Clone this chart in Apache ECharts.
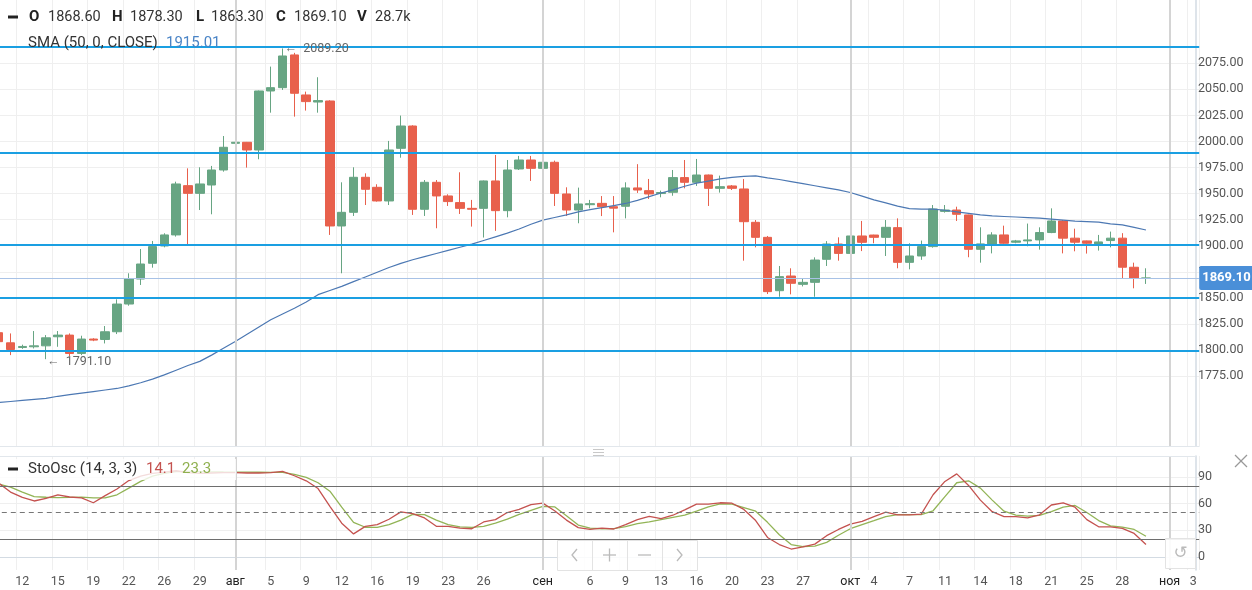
<!DOCTYPE html>
<html><head><meta charset="utf-8">
<script src="https://cdn.jsdelivr.net/npm/echarts@6/dist/echarts.min.js"></script>
<style>html,body{margin:0;padding:0;background:#fff;}#c{width:1252px;height:590px;}</style>
</head><body><div id="c"></div>
<script>
// ---------------- data ----------------
const dates = [
'2020-07-09','2020-07-10','2020-07-12','2020-07-13','2020-07-14','2020-07-15','2020-07-16','2020-07-17','2020-07-19','2020-07-20',
'2020-07-21','2020-07-22','2020-07-23','2020-07-24','2020-07-26','2020-07-27','2020-07-28','2020-07-29','2020-07-30','2020-07-31',
'2020-08-02','2020-08-03','2020-08-04','2020-08-05','2020-08-06','2020-08-07','2020-08-09','2020-08-10','2020-08-11','2020-08-12',
'2020-08-13','2020-08-14','2020-08-16','2020-08-17','2020-08-18','2020-08-19','2020-08-20','2020-08-21','2020-08-23','2020-08-24',
'2020-08-25','2020-08-26','2020-08-27','2020-08-28','2020-08-30','2020-08-31','2020-09-01','2020-09-02','2020-09-03','2020-09-04',
'2020-09-06','2020-09-07','2020-09-08','2020-09-09','2020-09-10','2020-09-11','2020-09-13','2020-09-14','2020-09-15','2020-09-16',
'2020-09-17','2020-09-18','2020-09-20','2020-09-21','2020-09-22','2020-09-23','2020-09-24','2020-09-25','2020-09-27','2020-09-28',
'2020-09-29','2020-09-30','2020-10-01','2020-10-02','2020-10-04','2020-10-05','2020-10-06','2020-10-07','2020-10-08','2020-10-09',
'2020-10-11','2020-10-12','2020-10-13','2020-10-14','2020-10-15','2020-10-16','2020-10-18','2020-10-19','2020-10-20','2020-10-21',
'2020-10-22','2020-10-23','2020-10-25','2020-10-26','2020-10-27','2020-10-28','2020-10-29','2020-10-30'];
const futureDates = ['2020-10-31','2020-11-01','2020-11-02','2020-11-03'];

const opens = [
1816.5,1806.8,1802.3,1803.0,1803.9,1812.6,1814.2,1796.6,1810.4,1810.0,
1817.4,1844.0,1868.0,1883.1,1899.7,1910.3,1957.6,1950.2,1958.2,1972.6,
1998.2,1999.2,1991.8,2048.4,2051.6,2083.0,2044.6,2037.8,2038.8,1918.9,
1932.0,1965.6,1956.0,1942.9,1993.4,2014.8,1934.9,1960.8,1947.7,1941.3,
1935.8,1935.8,1962.1,1933.6,1973.6,1982.2,1974.2,1980.0,1949.6,1934.2,
1939.3,1940.6,1937.4,1937.8,1955.4,1952.8,1950.0,1951.2,1965.3,1960.8,
1967.8,1955.0,1957.3,1954.4,1922.4,1908.0,1856.8,1870.9,1862.9,1864.8,
1886.9,1901.6,1892.6,1909.3,1910.2,1908.0,1917.3,1884.0,1890.1,1899.1,
1932.9,1934.2,1929.5,1896.5,1901.7,1910.3,1903.3,1904.6,1905.5,1912.6,
1923.7,1907.2,1904.6,1901.7,1904.9,1907.2,1879.3,1868.6];
const highs = [
1823.9,1815.8,1805.0,1818.1,1814.2,1818.1,1815.8,1813.6,1811.2,1822.9,
1848.5,1873.5,1896.8,1904.5,1911.9,1961.4,1974.2,1975.2,1976.5,2005.2,
2010.4,1999.5,2048.8,2071.8,2089.2,2085.0,2047.8,2061.6,2039.5,1960.8,
1975.2,1969.4,1958.9,2000.5,2024.8,2015.5,1963.0,1963.0,1949.3,1970.4,
1943.9,1962.5,1987.0,1982.2,1986.1,1986.1,2001.4,1981.6,1956.0,1955.7,
1943.9,1947.6,1947.6,1960.8,1978.2,1964.0,1952.8,1972.6,1982.2,1983.2,
1968.2,1967.2,1958.2,1963.9,1924.6,1909.3,1880.5,1878.3,1868.6,1888.8,
1904.4,1908.0,1917.6,1923.7,1910.5,1924.6,1926.2,1902.3,1904.9,1939.0,
1939.0,1937.4,1929.8,1917.6,1912.9,1919.2,1905.5,1921.2,1917.6,1935.8,
1924.6,1916.3,1904.9,1910.3,1913.5,1912.0,1883.7,1878.3];
const lows = [
1804.0,1795.0,1801.0,1801.4,1791.1,1803.0,1794.0,1795.0,1808.4,1806.2,
1815.2,1842.4,1862.3,1878.9,1898.4,1908.7,1900.7,1934.2,1930.1,1971.0,
1993.4,1974.9,1982.9,2027.6,2049.4,2023.8,2029.6,2027.6,1910.3,1873.5,
1928.5,1939.0,1942.3,1939.0,1984.4,1929.5,1928.5,1916.7,1938.1,1930.4,
1918.3,1907.8,1914.2,1927.2,1972.6,1962.1,1969.4,1938.1,1928.5,1921.5,
1935.8,1928.4,1912.8,1926.2,1950.6,1944.8,1946.4,1947.9,1955.0,1957.3,
1938.1,1950.9,1953.4,1885.6,1898.4,1853.6,1851.0,1853.3,1860.9,1851.0,
1880.5,1885.6,1886.2,1894.8,1902.3,1890.1,1878.3,1877.3,1886.4,1898.1,
1931.7,1923.7,1888.9,1883.7,1892.6,1901.7,1902.3,1899.4,1896.2,1912.0,
1892.6,1894.6,1892.4,1895.3,1898.4,1868.8,1859.1,1863.3];
const closes = [
1807.9,1800.4,1803.3,1803.9,1811.6,1814.2,1796.6,1810.4,1809.4,1817.4,
1844.0,1868.0,1882.4,1899.1,1910.3,1959.2,1950.2,1959.2,1972.6,1994.4,
1999.2,1991.8,2048.4,2051.6,2082.0,2046.2,2038.2,2039.2,1918.9,1932.0,
1965.6,1954.1,1942.9,1991.8,2014.8,1934.9,1960.8,1947.7,1942.3,1935.8,
1934.9,1962.1,1933.6,1972.6,1982.2,1974.2,1980.0,1950.2,1934.2,1940.0,
1940.3,1937.4,1936.0,1955.4,1953.4,1949.6,1951.0,1965.3,1960.8,1967.8,
1955.0,1956.6,1955.0,1923.0,1908.0,1855.9,1870.3,1863.9,1864.8,1886.2,
1901.6,1892.6,1909.3,1903.2,1908.0,1917.6,1884.0,1890.1,1899.1,1935.2,
1934.2,1930.1,1896.5,1901.7,1910.3,1902.3,1904.6,1905.5,1912.6,1923.7,
1907.2,1903.3,1902.3,1903.6,1907.2,1879.3,1868.8,1869.1];
const lastVolume = '28.7k';

const sma50 = [
1749.5,1750.5,1751.5,1752.5,1753.5,1755.5,1757,1758.5,1760,1761.5,
1763,1765.5,1768.5,1772,1776,1780.5,1785,1789,1795,1801.5,
1808,1815,1822,1829,1834.5,1840,1846,1853,1857,1861,
1865.5,1870,1874.5,1879,1883,1886.5,1889.5,1892.5,1895.5,1898.5,
1901.5,1905,1908.5,1912,1916,1920.5,1924.5,1927,1929.5,1932.5,
1934.5,1936.5,1938.5,1940.5,1943.5,1947,1950.5,1953.5,1957,1960,
1962,1964,1965.5,1966.5,1967,1965,1963.5,1961.5,1959.5,1957.5,
1955.5,1953.5,1951,1947.5,1944,1941,1938,1935.5,1935,1935,
1934,1932.5,1931,1929.5,1928.5,1928,1927.5,1927,1926.5,1925.5,
1924.5,1923.5,1923,1922.5,1921,1920,1917.5,1915.01];

const stochK = [
83,73,67,63,66,70,67.5,66.5,61,69,
76.5,86,91,94,95.5,97,95,94,94.5,95,
95,94.5,94.5,95,96.3,91.4,85.7,77,57,38,
26,34.5,36.5,42.5,50.8,48.9,43.9,34.5,34.4,32.5,
31.8,39.4,42,50,53.5,59,60.6,52,41.5,33,
31,32.5,31.5,36.5,42,45.8,43.2,47,53,59.5,
59.5,61,60.5,53.5,41,22,14,9,11.5,14.5,
24,31,37,40,45.5,50.5,47.5,47.5,48.3,70,
85,93.5,80.5,64,51,45.5,45.5,44,47.5,58.5,
61,56,42,34,34,32.3,26.5,14.1];
const stochD = [
82,78.5,73,68,67.2,66.8,67,67.3,66.5,66.5,
70,77.5,85,91,94,96,96.2,96,95.8,95.6,
95.5,95.4,95.3,95.2,95.1,93,89.5,83.5,74,56,
39,33.5,33.3,36.5,41.5,48,47.7,41.5,36.5,34,
33.3,34.5,38,42.5,48,52.5,57,56.5,46.5,36,
32.5,31.8,31.9,34.3,37.5,39.5,42,44.5,47,51.5,
56.5,59.8,59.5,55.5,51.5,39,25,14,11.8,12.3,
16.5,24.5,31.8,36.3,40.8,45.5,47.6,47.7,47.7,52,
68,83.5,85.7,77.5,64,51.5,47.2,45.9,46.8,51,
56,58,50,41,35,33.5,31,23.3];

const xLabelDates = ['2020-07-12','2020-07-15','2020-07-19','2020-07-22','2020-07-26','2020-07-29','2020-08-02','2020-08-05','2020-08-09','2020-08-12',
'2020-08-16','2020-08-19','2020-08-23','2020-08-26','2020-09-01','2020-09-06','2020-09-09','2020-09-13','2020-09-16','2020-09-20',
'2020-09-23','2020-09-27','2020-10-01','2020-10-04','2020-10-07','2020-10-11','2020-10-14','2020-10-18','2020-10-21','2020-10-25',
'2020-10-28','2020-11-01','2020-11-03'];
const xLabelTexts = ['12','15','19','22','26','29','авг','5','9','12',
'16','19','23','26','сен','6','9','13','16','20',
'23','27','окт','4','7','11','14','18','21','25',
'28','ноя','3'];
const monthDates = ['2020-08-02','2020-09-01','2020-10-01','2020-11-01'];

const priceTicks = [1775,2075];      // first and last labelled price
const priceStep = 25;
const levelLines = [2090.4, 1989.2, 1900.9, 1850.1, 1799.2];
const oscTicks = [0, 90];
const oscStep = 30;
const oscBands = [80, 20];
const oscMid = 50;

// ---------------- build ----------------
const allDates = dates.concat(futureDates);
const labelMap = {};
xLabelDates.forEach((d,i)=>labelMap[d]=xLabelTexts[i]);
const monthSet = new Set(monthDates);
const candleData = dates.map((d,i)=>[opens[i],closes[i],lows[i],highs[i]]);
const n = dates.length;
let hiIdx=0, loIdx=0;
highs.forEach((v,i)=>{ if(v>highs[hiIdx]) hiIdx=i; });
lows.forEach((v,i)=>{ if(v<lows[loIdx]) loIdx=i; });

const GL = -7.2, GR = 52.8, AXOFF = -3.2;
const FONT = 'Roboto, "Noto Sans", sans-serif';
const GREEN = '#67a583', RED = '#e8604c';
const gbase = {left:GL, right:GR, outerBoundsMode:'none', containLabel:false};

const monthMarks = monthDates.map(d=>({xAxis:d}));

const chart = echarts.init(document.getElementById('c'), null, {renderer:'canvas'});
const option = {
  animation:false,
  backgroundColor:'#fff',
  textStyle:{fontFamily:FONT},
  grid:[
    Object.assign({top:0, height:446}, gbase),          // price panel
    Object.assign({top:456, height:114}, gbase),        // oscillator panel
    Object.assign({top:63.3, height:312.7}, gbase),     // price labels/grid
    Object.assign({top:477, height:80}, gbase)          // osc labels/grid
  ],
  xAxis:[
    {type:'category', gridIndex:0, data:allDates, boundaryGap:true,
     axisLine:{show:true, lineStyle:{color:'#e2e7ec'}}, axisTick:{show:false}, axisLabel:{show:false},
     splitLine:{show:true, interval:(i,v)=>labelMap[v]!==undefined && !monthSet.has(v), lineStyle:{color:'#efefef', width:1}}},
    {type:'category', gridIndex:1, data:allDates, boundaryGap:true,
     axisLine:{show:true, lineStyle:{color:'#d3dbe3'}}, axisTick:{show:false},
     axisLabel:{show:true, interval:(i,v)=>labelMap[v]!==undefined, margin:5,
       formatter:v=>monthSet.has(v)?('{m|'+labelMap[v]+'}'):(labelMap[v]||''),
       color:'#555', fontSize:12.5, fontFamily:FONT,
       rich:{m:{color:'#222', fontSize:12.5, fontFamily:FONT}}},
     splitLine:{show:true, interval:(i,v)=>labelMap[v]!==undefined && !monthSet.has(v), lineStyle:{color:'#efefef', width:1}}},
    {type:'value', gridIndex:2, min:0, max:1, show:false},
    {type:'value', gridIndex:3, min:0, max:1, show:false}
  ],
  yAxis:[
    {type:'value', gridIndex:0, position:'right', offset:AXOFF, min:1707.8, max:2135.7,
     axisLine:{show:true, lineStyle:{color:'#d3dbe3', width:1.5}}, axisTick:{show:false}, axisLabel:{show:false}, splitLine:{show:false}},
    {type:'value', gridIndex:1, position:'right', offset:AXOFF, min:-14.6, max:113.6,
     axisLine:{show:true, lineStyle:{color:'#d3dbe3', width:1.5}}, axisTick:{show:false}, axisLabel:{show:false}, splitLine:{show:false}},
    {type:'value', gridIndex:2, position:'right', offset:AXOFF, min:priceTicks[0], max:priceTicks[1], interval:priceStep,
     axisLine:{show:false}, axisTick:{show:true, length:4, lineStyle:{color:'#999'}},
     axisLabel:{show:true, margin:2, color:'#555', fontSize:12.5, fontFamily:FONT, formatter:v=>v.toFixed(2)},
     splitLine:{show:true, lineStyle:{color:'#efefef', width:1}}},
    {type:'value', gridIndex:3, position:'right', offset:AXOFF, min:oscTicks[0], max:oscTicks[1], interval:oscStep,
     axisLine:{show:false}, axisTick:{show:true, length:4, lineStyle:{color:'#999'}},
     axisLabel:{show:true, margin:2, color:'#555', fontSize:12.5, fontFamily:FONT},
     splitLine:{show:true, lineStyle:{color:'#efefef', width:1}}}
  ],
  series:[
    {type:'candlestick', xAxisIndex:0, yAxisIndex:0, data:candleData, barWidth:9, z:3,
     itemStyle:{color:GREEN, color0:RED, borderColor:GREEN, borderColor0:RED, borderWidth:1},
     markLine:{silent:true, symbol:['none','none'], animation:false,
       data:[
         ...monthMarks.map(m=>Object.assign({lineStyle:{color:'#d4d4d4', width:2, type:'solid'}, label:{show:false}}, m)),
         ...levelLines.map(v=>({yAxis:v, lineStyle:{color:'#1a9fe2', width:2, type:'solid'}, label:{show:false}})),
         {yAxis:closes[n-1], lineStyle:{color:'#a8c2e6', width:1, type:'solid'},
          label:{show:true, position:'end', distance:0, formatter:closes[n-1].toFixed(2),
            backgroundColor:'#4a8fd8', color:'#fff', fontSize:13, fontWeight:'bold', fontFamily:FONT,
            padding:[6,3,5,3], borderRadius:2}}
       ]},
     markPoint:{silent:true, symbol:'circle', symbolSize:0, animation:false,
       data:[
         {coord:[dates[hiIdx], highs[hiIdx]], label:{show:true, position:'right', distance:2, formatter:'←  '+highs[hiIdx].toFixed(2), color:'#666', fontSize:12.5, fontFamily:FONT}},
         {coord:[dates[loIdx], lows[loIdx]], label:{show:true, position:'right', distance:1, offset:[0,3], formatter:'←  '+lows[loIdx].toFixed(2), color:'#666', fontSize:12.5, fontFamily:FONT}}
       ]}
    },
    {type:'line', xAxisIndex:0, yAxisIndex:0, data:sma50, showSymbol:false, symbol:'none', z:4,
     lineStyle:{color:'#4c78b3', width:1.2}},
    {type:'line', xAxisIndex:1, yAxisIndex:1, data:stochK, showSymbol:false, symbol:'none', z:4,
     lineStyle:{color:'#c4524f', width:1.3},
     markLine:{silent:true, symbol:['none','none'], animation:false,
       data:[
         ...monthMarks.map(m=>Object.assign({lineStyle:{color:'#d4d4d4', width:2, type:'solid'}, label:{show:false}}, m)),
         ...oscBands.map(v=>({yAxis:v, lineStyle:{color:'#6e6e6e', width:1.2, type:'solid'}, label:{show:false}})),
         {yAxis:oscMid, lineStyle:{color:'#777', width:1.2, type:[5,4]}, label:{show:false}}
       ]}},
    {type:'line', xAxisIndex:1, yAxisIndex:1, data:stochD, showSymbol:false, symbol:'none', z:3,
     lineStyle:{color:'#92b456', width:1.3}}
  ],
  graphic:[
    {type:'line', shape:{x1:0,y1:456.5,x2:1196,y2:456.5}, style:{stroke:'#e2e7ec', lineWidth:1}, z:40},
    {type:'rect', shape:{x:0,y:459,width:236,height:21}, style:{fill:'rgba(255,255,255,0.8)'}, z:50},
    {type:'rect', shape:{x:8,y:15.5,width:10,height:3}, style:{fill:'#222'}, z:60},
    {type:'rect', shape:{x:8,y:467.5,width:10,height:3}, style:{fill:'#222'}, z:60},
    {type:'text', x:29, y:17, style:{text:'O', font:'bold 15px Roboto', fill:'#222', textVerticalAlign:'middle'}, z:60},
    {type:'text', x:48, y:17, style:{text:opens[n-1].toFixed(2), font:'14.5px Roboto', fill:'#333', textVerticalAlign:'middle'}, z:60},
    {type:'text', x:112, y:17, style:{text:'H', font:'bold 15px Roboto', fill:'#222', textVerticalAlign:'middle'}, z:60},
    {type:'text', x:130, y:17, style:{text:highs[n-1].toFixed(2), font:'14.5px Roboto', fill:'#333', textVerticalAlign:'middle'}, z:60},
    {type:'text', x:196, y:17, style:{text:'L', font:'bold 15px Roboto', fill:'#222', textVerticalAlign:'middle'}, z:60},
    {type:'text', x:211, y:17, style:{text:lows[n-1].toFixed(2), font:'14.5px Roboto', fill:'#333', textVerticalAlign:'middle'}, z:60},
    {type:'text', x:276, y:17, style:{text:'C', font:'bold 15px Roboto', fill:'#222', textVerticalAlign:'middle'}, z:60},
    {type:'text', x:294, y:17, style:{text:closes[n-1].toFixed(2), font:'14.5px Roboto', fill:'#333', textVerticalAlign:'middle'}, z:60},
    {type:'text', x:357, y:17, style:{text:'V', font:'bold 15px Roboto', fill:'#222', textVerticalAlign:'middle'}, z:60},
    {type:'text', x:375, y:17, style:{text:lastVolume, font:'14.5px Roboto', fill:'#333', textVerticalAlign:'middle'}, z:60},
    {type:'text', x:28, y:43, style:{text:'SMA (50, 0, CLOSE)', font:'15px Roboto', fill:'#333', textVerticalAlign:'middle'}, z:60},
    {type:'text', x:166, y:43, style:{text:sma50[n-1].toFixed(2), font:'15px Roboto', fill:'#4a84c6', textVerticalAlign:'middle'}, z:60},
    {type:'text', x:28, y:469, style:{text:'StoOsc (14, 3, 3)', font:'15px Roboto', fill:'#333', textVerticalAlign:'middle'}, z:60},
    {type:'text', x:146, y:469, style:{text:stochK[n-1].toFixed(1), font:'15px Roboto', fill:'#c4524f', textVerticalAlign:'middle'}, z:60},
    {type:'text', x:182, y:469, style:{text:stochD[n-1].toFixed(1), font:'15px Roboto', fill:'#8fb04f', textVerticalAlign:'middle'}, z:60},
    {type:'line', shape:{x1:1235,y1:455,x2:1247,y2:467}, style:{stroke:'#999', lineWidth:1.3}, z:60},
    {type:'line', shape:{x1:1247,y1:455,x2:1235,y2:467}, style:{stroke:'#999', lineWidth:1.3}, z:60},
    {type:'line', shape:{x1:593,y1:449.5,x2:604,y2:449.5}, style:{stroke:'#c8c8c8', lineWidth:1}, z:60},
    {type:'line', shape:{x1:593,y1:452.5,x2:604,y2:452.5}, style:{stroke:'#c8c8c8', lineWidth:1}, z:60},
    {type:'line', shape:{x1:593,y1:455.5,x2:604,y2:455.5}, style:{stroke:'#c8c8c8', lineWidth:1}, z:60},
    {type:'rect', shape:{x:557.5,y:540.5,width:140,height:30}, style:{fill:'rgba(255,255,255,0.85)', stroke:'#e3e3e3', lineWidth:1}, z:60},
    {type:'line', shape:{x1:592.5,y1:541,x2:592.5,y2:570}, style:{stroke:'#e3e3e3'}, z:61},
    {type:'line', shape:{x1:627.5,y1:541,x2:627.5,y2:570}, style:{stroke:'#e3e3e3'}, z:61},
    {type:'line', shape:{x1:662.5,y1:541,x2:662.5,y2:570}, style:{stroke:'#e3e3e3'}, z:61},
    {type:'polyline', shape:{points:[[577,549],[572,555],[577,561]]}, style:{stroke:'#bbb', lineWidth:1.3, fill:null}, z:62},
    {type:'line', shape:{x1:603,y1:555,x2:616,y2:555}, style:{stroke:'#bbb', lineWidth:1.3}, z:62},
    {type:'line', shape:{x1:609.5,y1:548.5,x2:609.5,y2:561.5}, style:{stroke:'#bbb', lineWidth:1.3}, z:62},
    {type:'line', shape:{x1:638,y1:555,x2:651,y2:555}, style:{stroke:'#bbb', lineWidth:1.3}, z:62},
    {type:'polyline', shape:{points:[[677,549],[682,555],[677,561]]}, style:{stroke:'#bbb', lineWidth:1.3, fill:null}, z:62},
    {type:'rect', shape:{x:1165.5,y:538.5,width:30,height:30}, style:{fill:'rgba(255,255,255,0.9)', stroke:'#e3e3e3', lineWidth:1}, z:60},
    {type:'text', x:1180.5, y:553.5, style:{text:'↺', font:'17px "DejaVu Sans"', fill:'#bbb', textAlign:'center', textVerticalAlign:'middle'}, z:62}
  ]
};
chart.setOption(option);
</script></body></html>
